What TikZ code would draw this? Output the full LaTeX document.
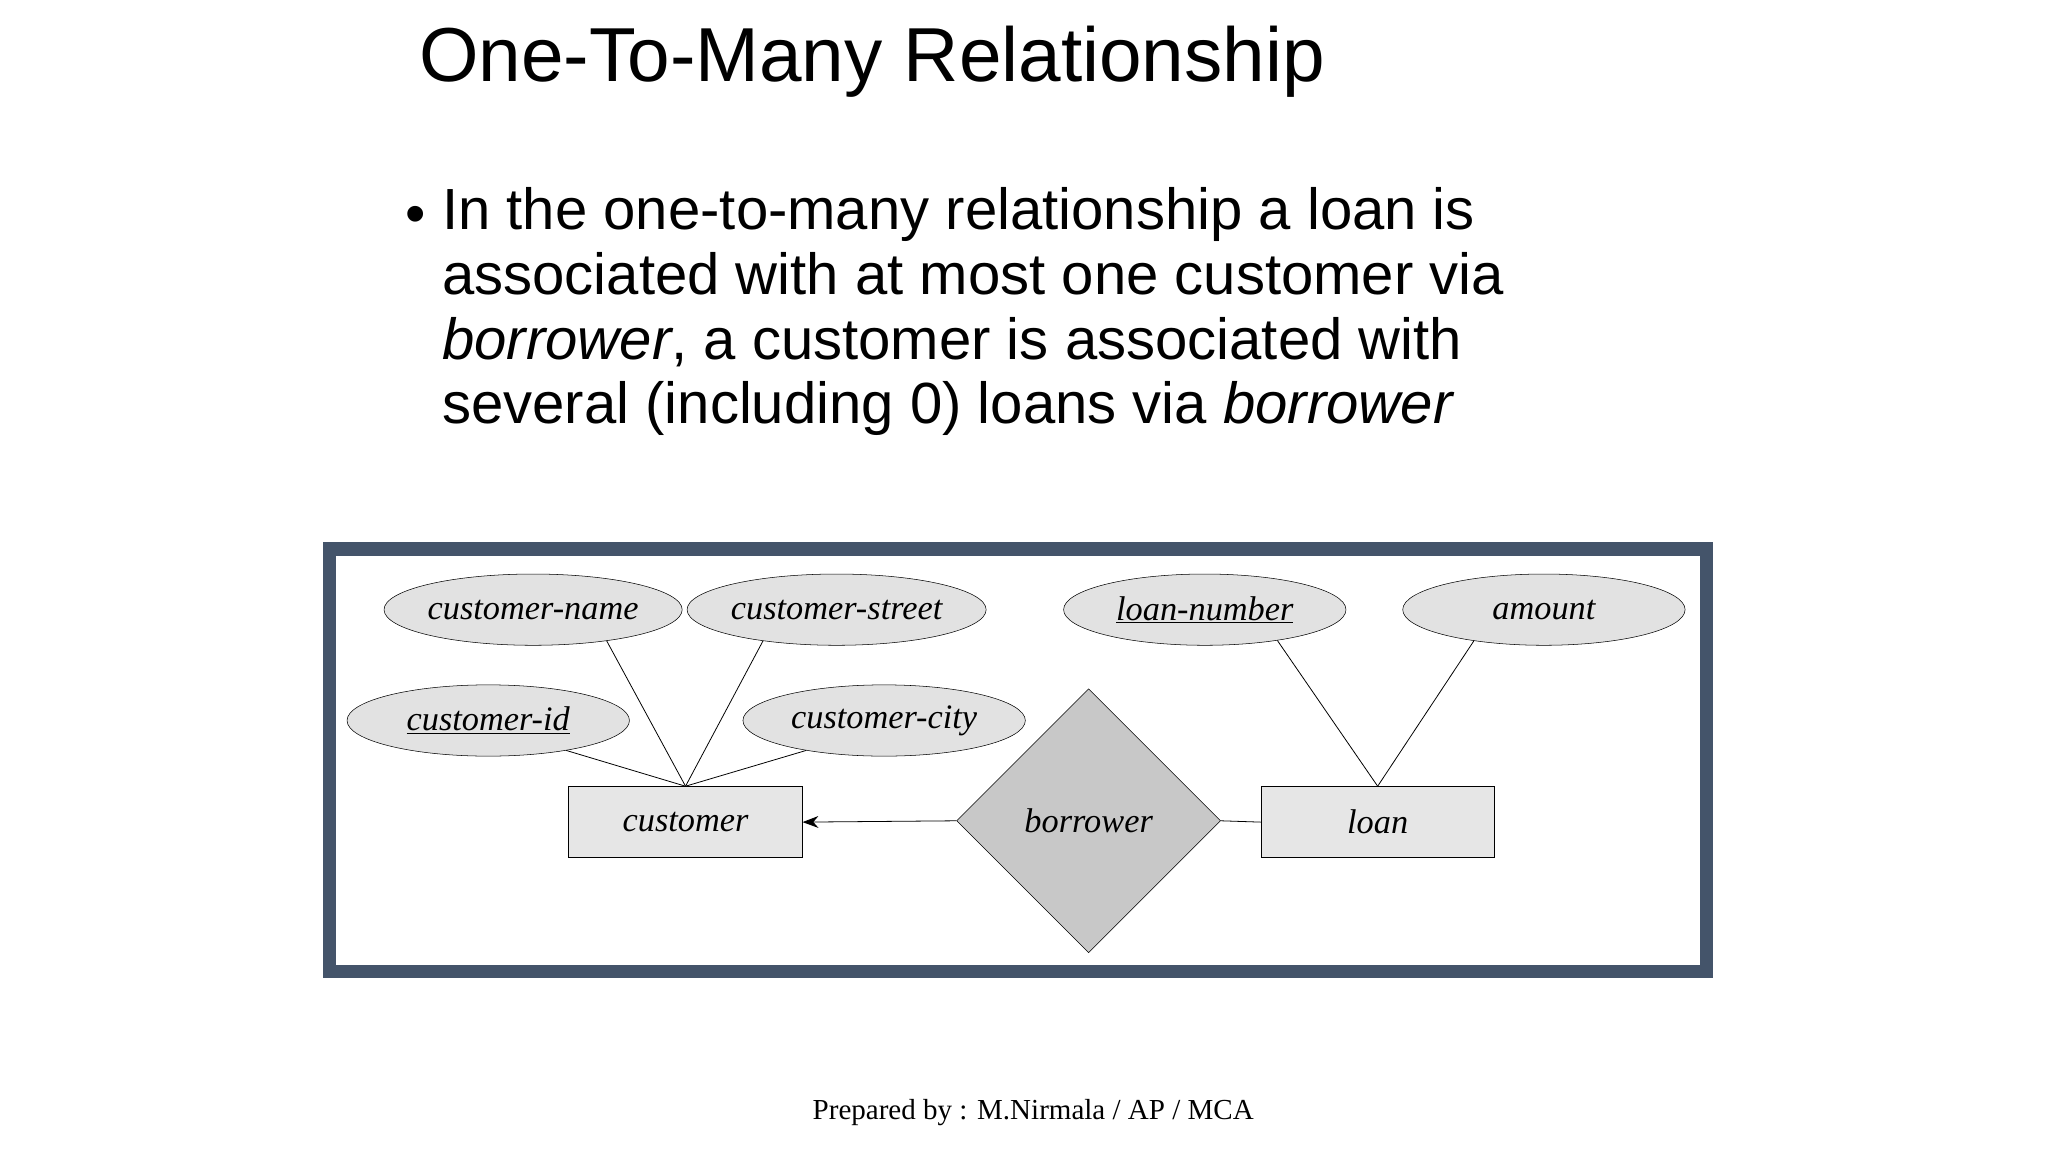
\documentclass[tikz,border=0pt]{standalone}
\usepackage{fontspec}
\setmainfont{Liberation Serif}
\setsansfont{Liberation Sans}
\usetikzlibrary{shapes.geometric,arrows.meta}
\definecolor{framec}{HTML}{44546A}
\definecolor{attrfill}{HTML}{E2E2E2}
\definecolor{entfill}{HTML}{E6E6E6}
\definecolor{relfill}{HTML}{C8C8C8}
\tikzset{
 attr/.style={ellipse,draw,fill=attrfill,minimum width=214pt,minimum height=54pt,inner sep=0pt,font=\fontsize{26}{28}\selectfont\itshape},
 ent/.style={rectangle,draw,fill=entfill,minimum width=177pt,minimum height=54pt,inner sep=0pt,font=\fontsize{26}{28}\selectfont\itshape},
 rel/.style={diamond,draw,fill=relfill,minimum width=200pt,minimum height=200pt,inner sep=0pt,font=\fontsize{26}{28}\selectfont\itshape},
 conn/.style={draw,line width=0.6pt}
}
\begin{document}
\begin{tikzpicture}[x=1pt,y=-1pt]
\useasboundingbox (0,0) rectangle (1552,873);
\node[anchor=base west,font=\sffamily\fontsize{58}{60}\selectfont] (title) at (314,62) {One-To-Many Relationship};
\node[anchor=base west,font=\sffamily\fontsize{44}{46}\selectfont] (bul) at (304,177) {•};
\node[anchor=north west,align=left,inner sep=0pt,font=\sffamily\fontsize{44}{49}\selectfont] (txt) at (335,142) {In the one-to-many relationship a loan is\\associated with at most one customer via\\\textit{borrower}, a customer is associated with\\several (including 0) loans via \textit{borrower}};
\draw[framec,line width=10pt] (250,416) rectangle (1293,736);
\node[attr] (cn) at (404,462) {customer-name};
\node[attr] (cs) at (634,462) {customer-street};
\node[attr] (ci) at (370,546) {\underline{customer-id}};
\node[attr] (cc) at (670,546) {customer-city};
\node[attr] (ln) at (913,462) {\underline{loan-number}};
\node[attr] (am) at (1170,462) {amount};
\node[ent] (cu) at (519.5,623) {customer};
\node[ent] (lo) at (1044,623) {loan};
\node[rel] (bo) at (825,622) {borrower};
\draw[conn] (cn.-23) -- (cu.north);
\draw[conn] (cs.-157) -- (cu.north);
\draw[conn] (ci.-21) -- (cu.north);
\draw[conn] (cc.-159) -- (cu.north);
\draw[conn] (ln.-23) -- (lo.north);
\draw[conn] (am.-156) -- (lo.north);
\draw[conn,-{Stealth[length=12pt,width=9pt]}] (bo.west) -- (cu.east);
\draw[conn] (bo.east) -- (lo.west);
\node[font=\fontsize{22}{24}\selectfont] (foot) at (783,843) {Prepared by : M.Nirmala / AP / MCA};
\end{tikzpicture}
\end{document}
